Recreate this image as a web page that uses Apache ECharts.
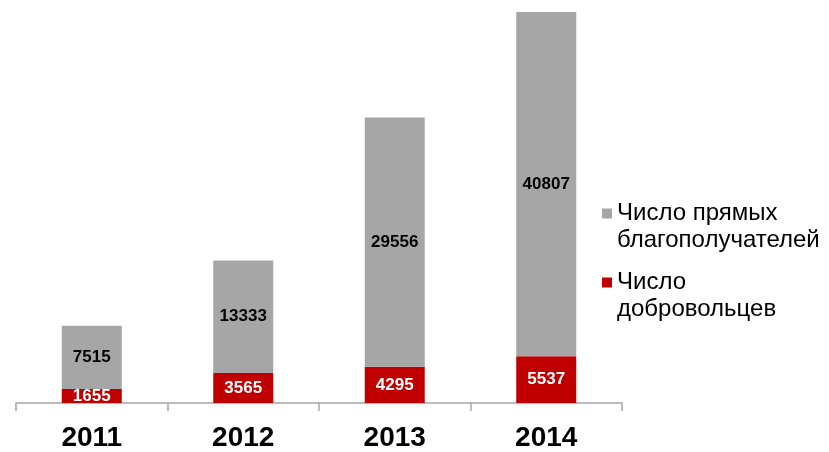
<!DOCTYPE html>
<html>
<head>
<meta charset="utf-8">
<script src="https://cdn.jsdelivr.net/npm/echarts@6/dist/echarts.min.js"></script>
<style>html,body{margin:0;padding:0;background:#fff}#c{width:829px;height:452px}</style>
</head>
<body>
<div id="c"></div>
<script>
var categories = ['2011', '2012', '2013', '2014'];
var volunteers = [1655, 3565, 4295, 5537];
var beneficiaries = [7515, 13333, 29556, 40807];
var seriesNames = ['Число прямых\nблагополучателей', 'Число\nдобровольцев'];

var chart = echarts.init(document.getElementById('c'));
var font = "'Liberation Sans', Arial, sans-serif";
chart.setOption({
  animation: false,
  grid: { left: 16, right: 207, top: 12, bottom: 46 },
  legend: {
    orient: 'vertical',
    left: 602,
    top: 200,
    padding: 0,
    itemGap: 15,
    itemWidth: 10,
    itemHeight: 37,
    symbolKeepAspect: false,
    icon: 'path://M0,0H10V10H0Z M0,37H10',
    data: [seriesNames[0], seriesNames[1]],
    textStyle: { fontFamily: font, fontSize: 24, lineHeight: 27, color: '#000' }
  },
  xAxis: {
    type: 'category',
    data: categories,
    axisLine: { lineStyle: { color: '#A6A6A6', width: 1.5 } },
    axisTick: { show: true, length: 8, interval: 0, lineStyle: { color: '#A6A6A6', width: 1.5 } },
    axisLabel: { margin: 21, fontFamily: font, fontSize: 28, fontWeight: 'bold', color: '#000' }
  },
  yAxis: {
    type: 'value', min: 0, max: 46344, show: false, splitLine: { show: false }
  },
  series: [
    {
      name: seriesNames[1], type: 'bar', stack: 's', data: volunteers, barWidth: 60,
      itemStyle: { color: '#C00000' },
      label: { show: true, position: 'inside', color: '#fff', fontFamily: font, fontSize: 17, fontWeight: 'bold' }
    },
    {
      name: seriesNames[0], type: 'bar', stack: 's', data: beneficiaries, barWidth: 60,
      itemStyle: { color: '#A6A6A6' },
      label: { show: true, position: 'inside', color: '#000', fontFamily: font, fontSize: 17, fontWeight: 'bold' }
    }
  ]
});
</script>
</body>
</html>
